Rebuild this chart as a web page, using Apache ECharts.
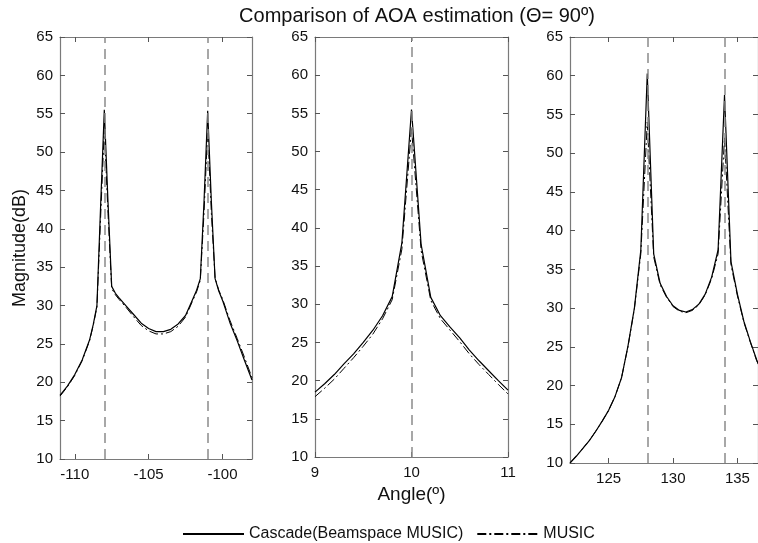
<!DOCTYPE html>
<html>
<head>
<meta charset="utf-8">
<script src="https://cdn.jsdelivr.net/npm/echarts@6/dist/echarts.min.js"></script>
<style>html,body{margin:0;padding:0;background:#fff}#c{width:758px;height:543px}</style>
</head>
<body>
<div id="c"></div>
<script>
// ---- data ----
const seriesNames = ['Cascade(Beamspace MUSIC)', 'MUSIC'];
const yTicks = [10, 15, 20, 25, 30, 35, 40, 45, 50, 55, 60, 65];

const leftX = [-111, -110.5, -110, -109.5, -109, -108.75, -108.5, -108.25, -108, -107.75, -107.5, -107.25, -107, -106.5, -106, -105.5, -105, -104.5, -104, -103.5, -103, -102.5, -102, -101.75, -101.5, -101.25, -101, -100.75, -100.5, -100.25, -100, -99.5, -99, -98.5, -98];
const leftCascade = [18.3, 19.5, 21.0, 22.9, 25.5, 27.5, 30.0, 43.0, 55.5, 43.5, 32.5, 31.6, 31.0, 29.9, 28.8, 27.7, 27.0, 26.6, 26.6, 26.9, 27.6, 28.7, 30.9, 32.0, 33.5, 43.5, 55.4, 43.5, 33.5, 31.9, 30.7, 27.8, 25.4, 22.8, 20.3];
const leftMusic = [18.2, 19.4, 20.9, 22.8, 25.4, 27.4, 29.8, 41.5, 53.0, 42.0, 32.2, 31.4, 30.8, 29.7, 28.5, 27.4, 26.7, 26.3, 26.3, 26.6, 27.3, 28.5, 30.7, 31.8, 33.3, 42.0, 53.0, 42.0, 33.6, 32.0, 30.9, 28.1, 25.7, 23.2, 20.6];
const leftTicks = [-110, -105, -100];
const leftTrue = [-108, -101];

const midX = [9.0, 9.1, 9.2, 9.3, 9.4, 9.5, 9.6, 9.7, 9.8, 9.9, 10.0, 10.1, 10.2, 10.3, 10.4, 10.5, 10.6, 10.7, 10.8, 10.9, 11.0];
const midCascade = [18.5, 19.6, 20.8, 22.2, 23.5, 25.0, 26.6, 28.5, 31.0, 38.0, 55.5, 37.8, 30.9, 28.5, 27.0, 25.6, 24.0, 22.6, 21.3, 20.0, 18.75];
const midMusic = [17.9, 19.0, 20.2, 21.6, 23.0, 24.5, 26.1, 28.1, 30.6, 37.2, 53.0, 37.0, 30.5, 28.1, 26.6, 25.1, 23.5, 22.1, 20.8, 19.5, 18.25];
const midTicks = [9, 10, 11];
const midTrue = [10];

const rightX = [122, 122.5, 123, 123.5, 124, 124.5, 125, 125.5, 126, 126.5, 127, 127.5, 128, 128.5, 129, 129.5, 130, 130.5, 131, 131.5, 132, 132.5, 133, 133.5, 134, 134.5, 135, 135.5, 136, 136.5, 137];
const rightCascade = [10.0, 10.9, 11.9, 12.9, 14.1, 15.4, 16.8, 18.6, 21.0, 25.1, 30.0, 37.5, 60.3, 37.0, 33.2, 31.5, 30.3, 29.7, 29.5, 29.8, 30.5, 31.8, 34.0, 37.5, 57.5, 36.0, 31.8, 28.3, 25.7, 23.3, 21.4];
const rightMusic = [10.0, 10.9, 11.9, 12.9, 14.1, 15.4, 16.8, 18.6, 21.0, 25.0, 29.9, 37.0, 54.0, 36.6, 33.0, 31.4, 30.2, 29.6, 29.4, 29.7, 30.4, 31.7, 33.8, 37.0, 52.0, 35.6, 31.6, 28.2, 25.6, 23.2, 21.3];
const rightTicks = [125, 130, 135];
const rightTrue = [128, 134];

// ---- layout / style ----
const FONT = 'Liberation Sans, Arial, Helvetica, sans-serif';
const AXIS_COLOR = '#7a7a7a';
const panels = [
  {x: leftX, c: leftCascade, m: leftMusic, ticks: leftTicks, truth: leftTrue, min: -111, max: -98,
   grid: {left: 60, top: 37, width: 192, height: 422}},
  {x: midX, c: midCascade, m: midMusic, ticks: midTicks, truth: midTrue, min: 9, max: 11,
   grid: {left: 315, top: 37, width: 193, height: 420}},
  {x: rightX, c: rightCascade, m: rightMusic, ticks: rightTicks, truth: rightTrue, min: 122, max: 136.6,
   grid: {left: 570, top: 37, width: 191, height: 426}}
];

const zip = (xs, ys) => xs.map((x, i) => [x, ys[i]]);

const grids = [], xAxes = [], yAxes = [], series = [];
panels.forEach((p, i) => {
  grids.push(Object.assign({containLabel: false}, p.grid));
  const tickCommon = {inside: true, length: 5, customValues: p.ticks, lineStyle: {color: '#555', width: 1}};
  xAxes.push({
    type: 'value', gridIndex: i, min: p.min, max: p.max, position: 'bottom',
    axisLine: {show: true, onZero: false, lineStyle: {color: AXIS_COLOR, width: 1.2}},
    axisTick: tickCommon,
    axisLabel: {customValues: p.ticks, color: '#111', fontSize: 15, fontFamily: FONT, margin: 8},
    splitLine: {show: false},
    name: i === 1 ? 'Angle(º)' : '', nameLocation: 'middle', nameGap: 27,
    nameTextStyle: {color: '#111', fontSize: 19, fontFamily: FONT}
  });
  xAxes.push({
    type: 'value', gridIndex: i, min: p.min, max: p.max, position: 'top',
    axisLine: {show: true, onZero: false, lineStyle: {color: AXIS_COLOR, width: 1.2}},
    axisTick: tickCommon, axisLabel: {show: false}, splitLine: {show: false}
  });
  const yTickCommon = {inside: true, length: 5, customValues: yTicks, lineStyle: {color: '#555', width: 1}};
  yAxes.push({
    type: 'value', gridIndex: i, min: 10, max: 65, interval: 5, position: 'left',
    axisLine: {show: true, onZero: false, lineStyle: {color: AXIS_COLOR, width: 1.2}},
    axisTick: yTickCommon,
    axisLabel: {customValues: yTicks, color: '#111', fontSize: 15, fontFamily: FONT, margin: 7},
    splitLine: {show: false},
    name: i === 0 ? 'Magnitude(dB)' : '', nameLocation: 'middle', nameGap: 31, nameRotate: 90,
    nameTextStyle: {color: '#111', fontSize: 18, fontFamily: FONT}
  });
  yAxes.push({
    type: 'value', gridIndex: i, min: 10, max: 65, interval: 5, position: 'right',
    axisLine: {show: true, onZero: false, lineStyle: {color: AXIS_COLOR, width: 1.2}},
    axisTick: yTickCommon, axisLabel: {show: false}, splitLine: {show: false}
  });
  series.push({
    name: seriesNames[0], type: 'line', xAxisIndex: 2 * i, yAxisIndex: 2 * i,
    data: zip(p.x, p.c), symbol: 'none', smooth: false, clip: true, z: 3,
    lineStyle: {color: '#000', width: 1.2, type: 'solid'}, itemStyle: {color: '#000'},
    markLine: {
      silent: true, symbol: ['none', 'none'], label: {show: false}, animation: false,
      lineStyle: {color: '#8a8a8a', width: 1.5, type: [10, 6]},
      emphasis: {disabled: true},
      data: p.truth.map(v => ({xAxis: v}))
    }
  });
  series.push({
    name: seriesNames[1], type: 'line', xAxisIndex: 2 * i, yAxisIndex: 2 * i,
    data: zip(p.x, p.m), symbol: 'none', smooth: false, clip: true, z: 2,
    lineStyle: {color: '#000', width: 1, type: [9, 3, 2, 3]}, itemStyle: {color: '#000'}
  });
});

const chart = echarts.init(document.getElementById('c'), null, {renderer: 'canvas'});
chart.setOption({
  backgroundColor: '#fff',
  animation: false,
  title: {
    text: 'Comparison of AOA estimation (Θ= 90º)', left: 412, top: 1, textAlign: 'center',
    textStyle: {color: '#111', fontSize: 20, fontWeight: 'normal', fontFamily: FONT}
  },
  legend: {
    data: seriesNames, left: 177, top: 521, itemWidth: 61, itemHeight: 14, itemGap: 13,
    itemStyle: {opacity: 0, borderWidth: 0},
    textStyle: {color: '#111', fontSize: 16, fontFamily: FONT}
  },
  grid: grids, xAxis: xAxes, yAxis: yAxes, series: series
});
</script>
</body>
</html>
